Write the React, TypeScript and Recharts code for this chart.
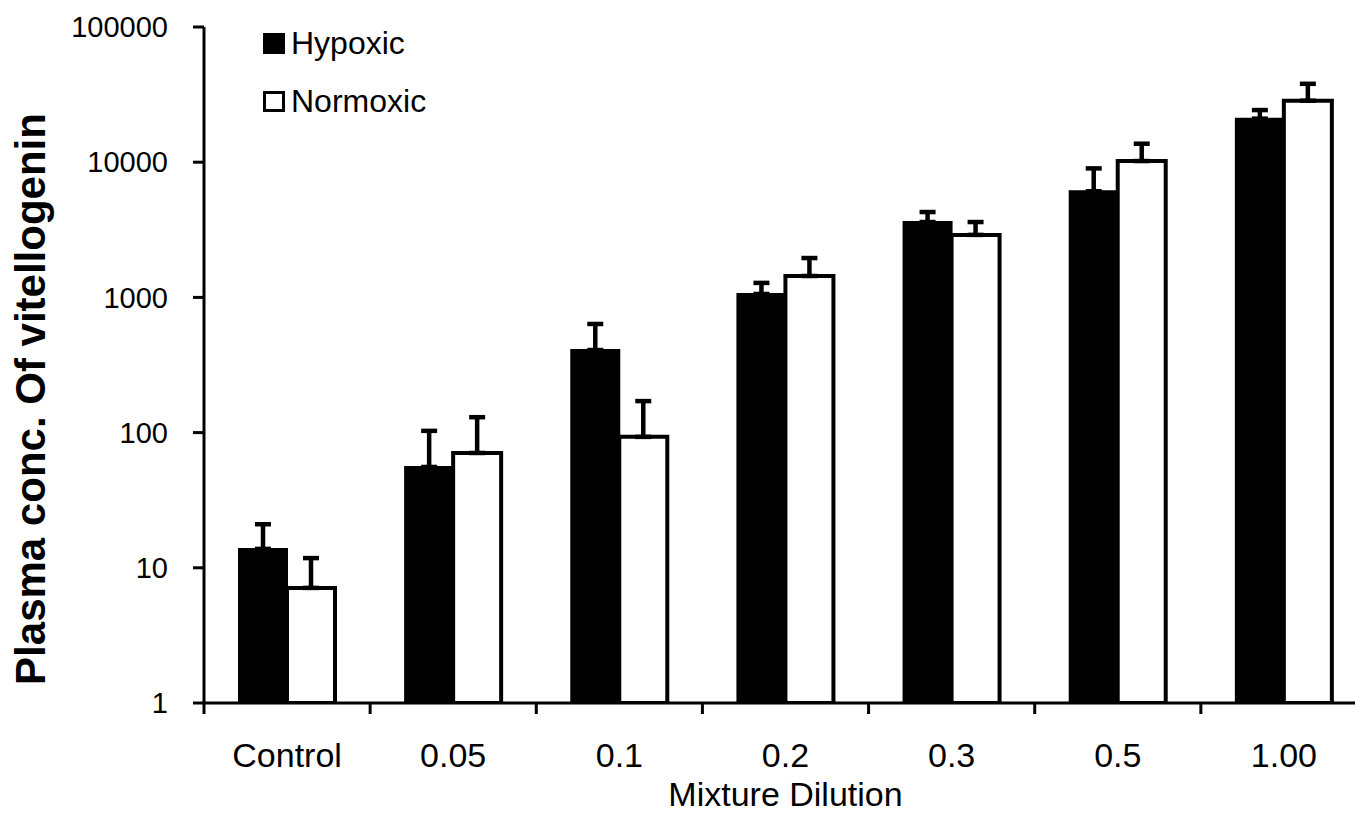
import React from 'react';
import { BarChart, Bar, XAxis, YAxis, ErrorBar, Legend, Label } from 'recharts';

const FONT = '"Liberation Sans", Arial, sans-serif';

const CATEGORIES = ['Control', '0.05', '0.1', '0.2', '0.3', '0.5', '1.00'];
const HYPOXIC = [13.8, 55.7, 408, 1060, 3610, 6100, 21000];
const HYPOXIC_SE = [7.2, 47.3, 228, 220, 670, 2900, 3300];
const NORMOXIC = [7.1, 70.7, 93, 1440, 2900, 10200, 28500];
const NORMOXIC_SE = [4.7, 59.3, 78, 515, 710, 3500, 9500];
const Y_TICKS = [1, 10, 100, 1000, 10000, 100000];

const data = CATEGORIES.map((name, i) => ({
  name,
  hypoxic: HYPOXIC[i],
  hypoxicErr: [0, HYPOXIC_SE[i]],
  normoxic: NORMOXIC[i],
  normoxicErr: [0, NORMOXIC_SE[i]],
}));

const CHART_W = 1370;
const CHART_H = 814;
const Y_AXIS_W = 204;
const MARGIN = { top: 27, right: 3, left: 0, bottom: 0 };
const BAND = (CHART_W - Y_AXIS_W - MARGIN.left - MARGIN.right) / CATEGORIES.length;

// category label plus a tick mark at the band boundary
function XTick(props: any) {
  const { x, y, payload, index } = props;
  const last = index === CATEGORIES.length - 1;
  return (
    <g>
      <line x1={x - BAND / 2} y1={y} x2={x - BAND / 2} y2={y + 11} stroke="#000" strokeWidth={3} />
      {last && <line x1={x + BAND / 2} y1={y} x2={x + BAND / 2} y2={y + 11} stroke="#000" strokeWidth={3} />}
      <text x={x} y={y + 64} textAnchor="middle" fontSize={34} fontFamily={FONT} fill="#000">
        {payload.value}
      </text>
    </g>
  );
}

function LegendBox() {
  const row: React.CSSProperties = { display: 'flex', alignItems: 'center', height: 58, fontSize: 32, fontFamily: FONT, color: '#000' };
  return (
    <div>
      <div style={row}>
        <span style={{ width: 22, height: 21, background: '#000', marginRight: 6, display: 'inline-block' }} />
        Hypoxic
      </div>
      <div style={row}>
        <span style={{ width: 16, height: 15, border: '3px solid #000', background: '#fff', marginRight: 6, display: 'inline-block' }} />
        Normoxic
      </div>
    </div>
  );
}

export default function App() {
  return (
    <div style={{ position: 'fixed', left: 0, top: 0, width: 1355, height: 814, overflow: 'hidden', background: '#fff' }}>
      <BarChart width={CHART_W} height={CHART_H} data={data} margin={MARGIN} barSize={48} barGap={0}>
        <XAxis
          dataKey="name"
          height={CHART_H - 703}
          axisLine={{ stroke: '#000', strokeWidth: 3 }}
          tickLine={false}
          tickSize={0}
          tickMargin={0}
          tick={<XTick />}
          interval={0}
        >
          <Label
            content={({ viewBox }: any) => (
              <text x={viewBox.x + viewBox.width / 2} y={viewBox.y + 103} textAnchor="middle" fontSize={34} fontFamily={FONT} fill="#000">
                Mixture Dilution
              </text>
            )}
          />
        </XAxis>
        <YAxis
          scale="log"
          domain={[1, 100000]}
          ticks={Y_TICKS}
          allowDataOverflow
          width={Y_AXIS_W}
          axisLine={{ stroke: '#000', strokeWidth: 3 }}
          tickLine={{ stroke: '#000', strokeWidth: 3 }}
          tickSize={11}
          tickMargin={25}
          tick={{ fontSize: 29, fontFamily: FONT, fill: '#000' }}
          interval={0}
        >
          <Label
            content={({ viewBox }: any) => {
              const cx = 45;
              const cy = viewBox.y + viewBox.height / 2 + 34;
              return (
                <text x={cx} y={cy} transform={`rotate(-90, ${cx}, ${cy})`} textAnchor="middle" fontSize={42} fontWeight="bold" fontFamily={FONT} fill="#000">
                  Plasma conc. Of vitellogenin
                </text>
              );
            }}
          />
        </YAxis>
        <Legend
          layout="vertical"
          align="center"
          verticalAlign="middle"
          wrapperStyle={{ left: 263, top: 14, width: 'auto' }}
          content={() => <LegendBox />}
        />
        <Bar dataKey="hypoxic" name="Hypoxic" fill="#000" stroke="#000" strokeWidth={2} isAnimationActive={false}>
          <ErrorBar dataKey="hypoxicErr" direction="y" width={8} stroke="#000" strokeWidth={4.5} />
        </Bar>
        <Bar dataKey="normoxic" name="Normoxic" fill="#fff" stroke="#000" strokeWidth={4} isAnimationActive={false}>
          <ErrorBar dataKey="normoxicErr" direction="y" width={8} stroke="#000" strokeWidth={4.5} />
        </Bar>
      </BarChart>
    </div>
  );
}
